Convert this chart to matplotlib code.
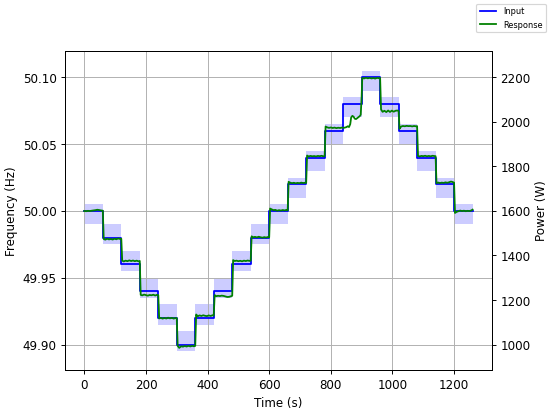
import matplotlib
matplotlib.use("Agg")
import matplotlib.pyplot as plt

# ----------------------------
# DATA
# ----------------------------
# input setpoint: one level per 60 s step
step_t = [0, 60, 120, 180, 240, 300, 360, 420, 480, 540, 600,
          660, 720, 780, 840, 900, 960, 1020, 1080, 1140, 1200, 1260]
step_f = [50.00, 49.98, 49.96, 49.94, 49.92, 49.90, 49.92, 49.94, 49.96, 49.98,
          50.00, 50.02, 50.04, 50.06, 50.08, 50.10, 50.08, 50.06, 50.04, 50.02,
          50.00]

# tolerance band for each step
box_lo = [49.990, 49.975, 49.955, 49.935, 49.915, 49.895, 49.915, 49.935, 49.955, 49.975,
          49.990, 50.010, 50.030, 50.050, 50.070, 50.090, 50.070, 50.050, 50.030, 50.010,
          49.990]
box_hi = [50.005, 49.990, 49.970, 49.950, 49.930, 49.910, 49.930, 49.950, 49.970, 49.990,
          50.005, 50.025, 50.045, 50.065, 50.085, 50.105, 50.085, 50.065, 50.045, 50.025,
          50.005]

# measured response
resp_t = [
    0, 6, 12, 18, 24, 30, 36, 42, 48, 54, 60,
    63, 68, 74, 80, 86, 92, 98, 104, 110, 116, 120,
    123, 128, 134, 140, 146, 152, 158, 164, 170, 176, 180,
    183, 188, 194, 200, 206, 212, 218, 224, 230, 236, 240,
    243, 248, 254, 260, 266, 272, 278, 284, 290, 296, 300,
    303, 308, 314, 320, 326, 332, 338, 344, 350, 356, 360,
    363, 368, 374, 380, 386, 392, 398, 404, 410, 416, 420,
    423, 428, 434, 440, 446, 452, 458, 464, 470, 476, 480,
    483, 488, 494, 500, 506, 512, 518, 524, 530, 536, 540,
    543, 548, 554, 560, 566, 572, 578, 584, 590, 596, 600,
    603, 608, 614, 620, 626, 632, 638, 644, 650, 656, 660,
    663, 668, 674, 680, 686, 692, 698, 704, 710, 716, 720,
    723, 728, 734, 740, 746, 752, 758, 764, 770, 776, 780,
    783, 788, 794, 800, 806, 812, 818, 824, 830, 836, 840,
    844, 850, 855, 859, 863, 866, 870, 874, 878, 882, 886, 890, 894, 897, 900,
    902, 908, 914, 920, 926, 932, 938, 944, 950, 956, 960,
    963, 968, 974, 980, 986, 992, 998, 1004, 1010, 1016, 1020,
    1023, 1028, 1034, 1040, 1046, 1052, 1058, 1064, 1070, 1076, 1080,
    1083, 1088, 1094, 1100, 1106, 1112, 1118, 1124, 1130, 1136, 1140,
    1143, 1148, 1154, 1160, 1166, 1172, 1178, 1184, 1190, 1196, 1200,
    1203, 1208, 1214, 1220, 1226, 1232, 1238, 1244, 1250, 1256, 1260,
]
resp_f = [
    50.0000, 49.9998, 50.0001, 49.9999, 50.0002, 50.0004, 50.0006, 50.0009, 50.0007, 50.0004, 50.0002,
    49.9790, 49.9785, 49.9792, 49.9787, 49.9790, 49.9786, 49.9792, 49.9788, 49.9794, 49.9790, 49.9792,
    49.9628, 49.9622, 49.9628, 49.9624, 49.9630, 49.9625, 49.9629, 49.9624, 49.9628, 49.9623, 49.9626,
    49.9372, 49.9368, 49.9374, 49.9370, 49.9366, 49.9371, 49.9369, 49.9373, 49.9367, 49.9372, 49.9370,
    49.9195, 49.9200, 49.9194, 49.9199, 49.9195, 49.9201, 49.9196, 49.9200, 49.9194, 49.9199, 49.9197,
    49.8990, 49.8975, 49.8987, 49.8984, 49.8989, 49.8985, 49.8990, 49.8986, 49.8990, 49.8987, 49.8990,
    49.9225, 49.9212, 49.9218, 49.9214, 49.9219, 49.9215, 49.9213, 49.9218, 49.9214, 49.9219, 49.9216,
    49.9370, 49.9362, 49.9365, 49.9363, 49.9366, 49.9364, 49.9360, 49.9356, 49.9357, 49.9362, 49.9365,
    49.9632, 49.9625, 49.9628, 49.9624, 49.9627, 49.9623, 49.9628, 49.9625, 49.9629, 49.9626, 49.9628,
    49.9810, 49.9803, 49.9806, 49.9802, 49.9807, 49.9803, 49.9800, 49.9804, 49.9801, 49.9805, 49.9803,
    50.0018, 50.0012, 50.0006, 50.0008, 50.0002, 50.0006, 50.0003, 50.0007, 50.0004, 50.0008, 50.0005,
    50.0218, 50.0212, 50.0208, 50.0211, 50.0207, 50.0210, 50.0208, 50.0212, 50.0209, 50.0211, 50.0210,
    50.0415, 50.0408, 50.0412, 50.0409, 50.0411, 50.0408, 50.0412, 50.0410, 50.0413, 50.0409, 50.0411,
    50.0632, 50.0626, 50.0622, 50.0625, 50.0621, 50.0624, 50.0620, 50.0623, 50.0621, 50.0624, 50.0622,
    50.0623, 50.0627, 50.0634, 50.0628, 50.0650, 50.0700, 50.0712, 50.0705, 50.0690, 50.0688, 50.0695, 50.0702, 50.0710, 50.0720, 50.0850,
    50.0995, 50.0992, 50.0997, 50.0993, 50.0996, 50.0992, 50.0995, 50.0991, 50.0996, 50.0994, 50.0995,
    50.0760, 50.0742, 50.0750, 50.0740, 50.0752, 50.0741, 50.0751, 50.0743, 50.0750, 50.0752, 50.0748,
    50.0615, 50.0632, 50.0636, 50.0634, 50.0637, 50.0635, 50.0636, 50.0633, 50.0636, 50.0634, 50.0635,
    50.0412, 50.0408, 50.0412, 50.0410, 50.0413, 50.0409, 50.0412, 50.0409, 50.0413, 50.0411, 50.0410,
    50.0208, 50.0213, 50.0209, 50.0212, 50.0210, 50.0214, 50.0211, 50.0215, 50.0220, 50.0216, 50.0212,
    49.9985, 49.9993, 49.9998, 50.0003, 49.9999, 50.0002, 49.9998, 50.0001, 49.9999, 50.0004, 50.0010,
]

# ----------------------------
# PLOT
# ----------------------------
fig = plt.figure(figsize=(6.4, 4.8), dpi=550 / 6.4)
fig.subplots_adjust(left=0.118, right=0.8945, top=0.876, bottom=0.102)
ax = fig.add_subplot(111)

# tolerance boxes
for i in range(len(step_f)):
    ax.fill_between([step_t[i], step_t[i + 1]], box_lo[i], box_hi[i],
                    color="blue", alpha=0.2, linewidth=0, zorder=1)

l_in, = ax.step(step_t, step_f + [step_f[-1]], where="post",
                color="blue", label="Input", zorder=2)
l_resp, = ax.plot(resp_t, resp_f, color="green", label="Response", zorder=3)

ax.set_xlim(-63, 1323)
ax.set_ylim(49.881, 50.12)
ax.set_yticks([49.90, 49.95, 50.00, 50.05, 50.10])
ax.set_xlabel("Time (s)")
ax.set_ylabel("Frequency (Hz)")
ax.grid(True)

ax2 = ax.twinx()
ax2.set_ylim(1600 + (49.881 - 50) * 6000, 1600 + (50.12 - 50) * 6000)
ax2.set_ylabel("Power (W)")

fig.legend(handles=[l_in, l_resp], loc="upper right", fontsize="x-small")

fig.savefig("out.png", dpi=550 / 6.4)
